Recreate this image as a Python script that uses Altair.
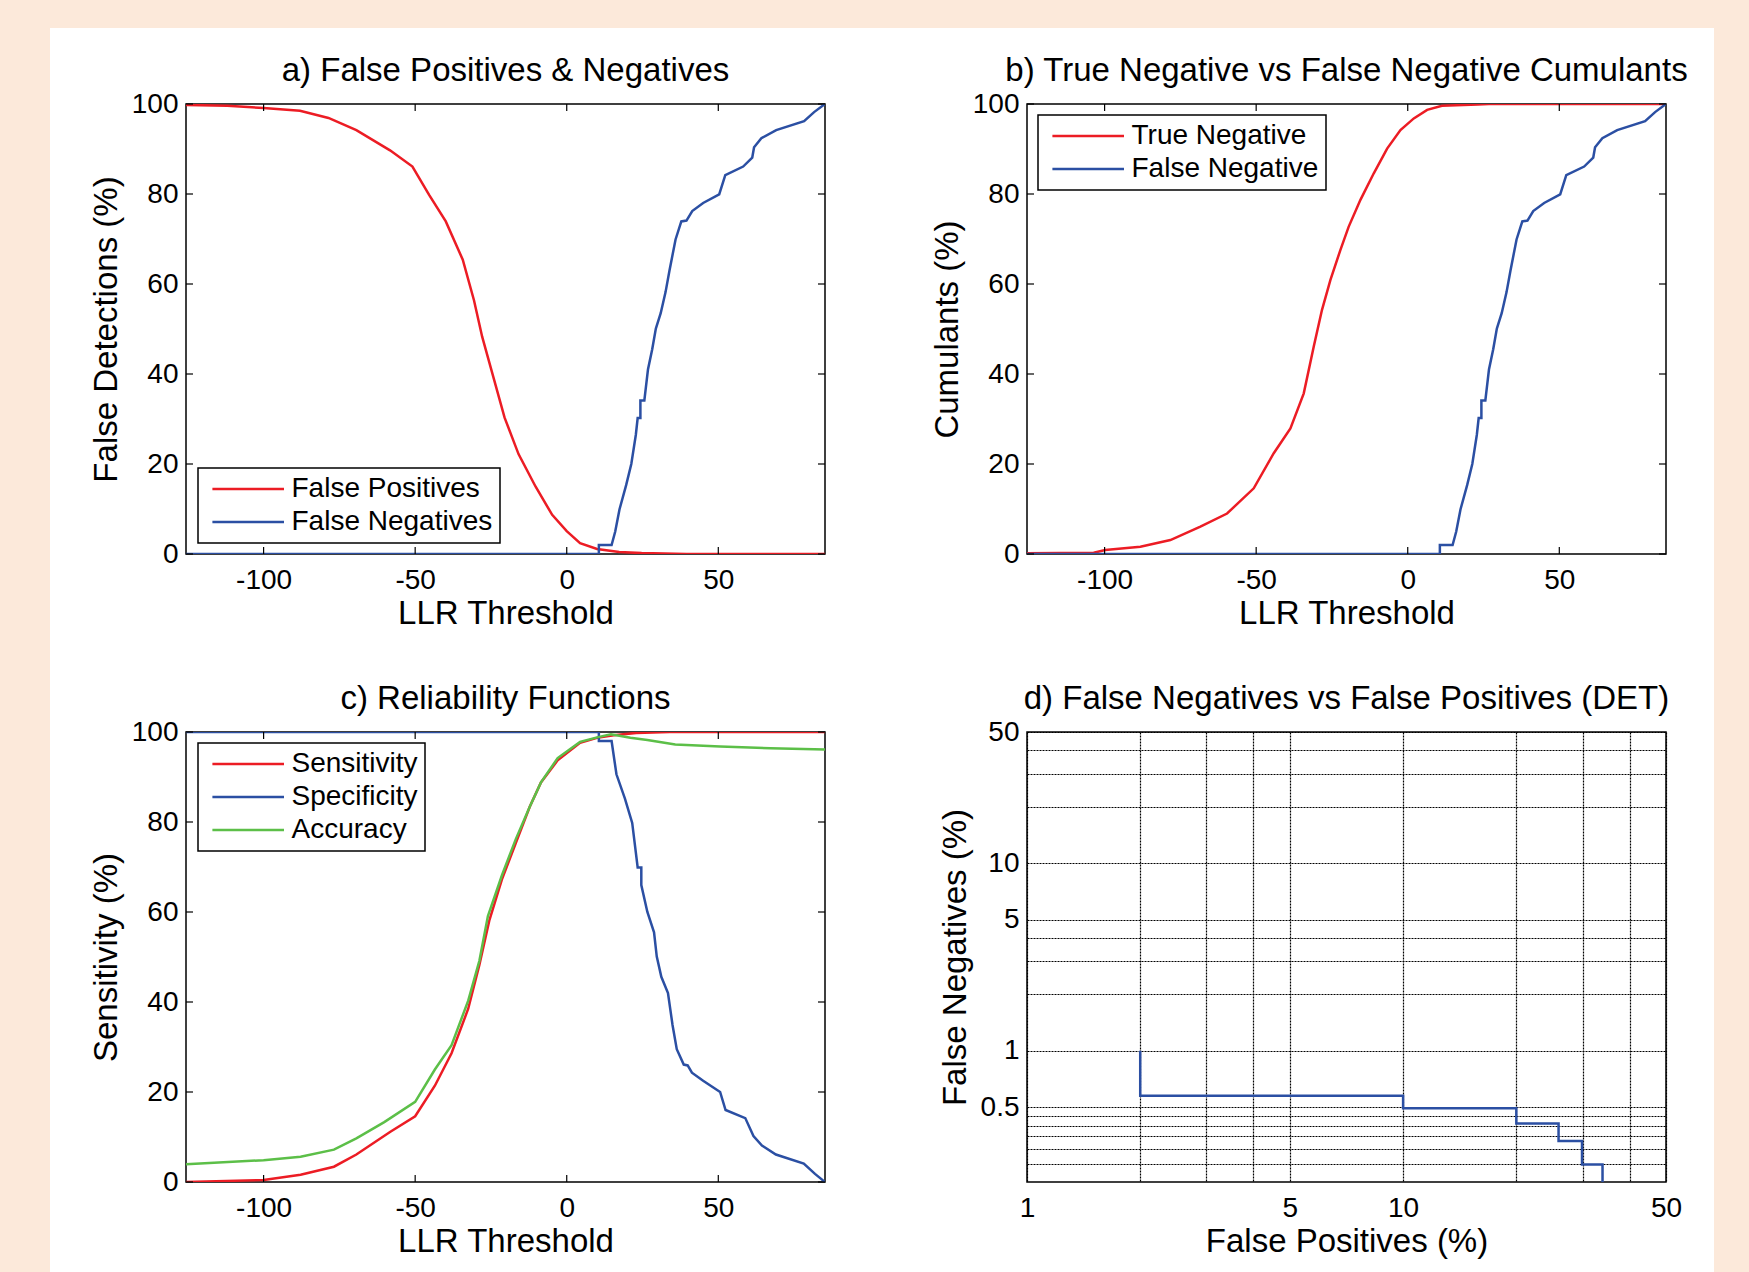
import altair as alt
import pandas as pd

# ---------------- data ----------------
# a) False Positives (red) vs LLR threshold
fp_x = [-125.6, -112, -100, -88, -78.6, -69.4, -58.3, -50.9, -45.4, -39.9, -34.3, -30.6,
        -27.9, -24.2, -20.5, -15.9, -10.3, -4.8, 0, 4.4, 10, 17.3, 24.7, 39.5, 85.2]
fp_y = [99.8, 99.6, 99.1, 98.5, 96.9, 94.2, 89.7, 86.1, 79.8, 73.9, 65.4, 56.4,
        48.3, 39.3, 30.3, 22.2, 15.0, 8.7, 5.1, 2.4, 1.1, 0.45, 0.2, 0, 0]

# a) / b) False Negatives (blue)
fn_x = [-125.6, 10.6, 10.6, 14.8, 16.0, 17.4, 19.6, 21.3, 22.8, 23.4, 24.3, 24.3, 25.6,
        26.8, 28.2, 29.4, 31.0, 32.6, 33.9, 35.9, 37.8, 39.5, 41.4, 45.0, 50.3, 52.3,
        58.2, 61.2, 61.8, 64.2, 69.1, 78.3, 81.6, 85.2]
fn_y = [0, 0, 2.0, 2.0, 5.0, 9.9, 15.3, 20.0, 26.5, 30.2, 30.2, 34.1, 34.1,
        41.0, 45.5, 50.1, 53.5, 58.2, 63.0, 69.9, 73.9, 74.1, 76.2, 78.0, 79.9, 84.2,
        86.1, 88.1, 90.4, 92.4, 94.2, 96.2, 98.2, 100]

# b) True Negative cumulant (red)
tn_x = [-125.6, -103.6, -99.8, -88.2, -78.3, -68.4, -59.6, -50.8, -44.2, -38.7, -34.3,
        -31.0, -28.3, -25.5, -22.2, -19.5, -15.6, -11.2, -6.8, -2.4, 2.0, 6.4, 11.3,
        23.1, 26.8, 85.2]
tn_y = [0.15, 0.3, 0.9, 1.6, 3.1, 6.1, 9.0, 14.6, 22.4, 27.9, 35.7,
        46.1, 54.2, 60.9, 67.6, 72.7, 78.7, 84.6, 90.1, 94.2, 96.8, 98.7, 99.6,
        99.9, 100, 100]

# c) Sensitivity (red)
sens_x = [-125.6, -100, -87.8, -76.8, -69.4, -58.3, -50, -43.5, -38.0, -32.5, -28.8,
          -25.5, -21.4, -16.8, -12.2, -8.5, -3.0, 4.4, 10, 15.5, 22.9, 34, 85.2]
sens_y = [0, 0.45, 1.6, 3.4, 6.1, 11.1, 14.6, 21.4, 28.6, 38.5, 48.3,
          58.2, 67.2, 75.3, 83.4, 88.8, 93.7, 97.6, 98.7, 99.3, 99.8, 100, 100]

# c) Specificity (blue)
spec_x = [-125.6, 10.6, 10.6, 14.8, 16.4, 19.2, 21.6, 23.4, 24.6, 24.6, 26.6, 28.8,
          29.7, 31.2, 33.4, 34.9, 36.3, 38.6, 39.9, 41.3, 45.0, 50.6, 52.4, 58.9,
          61.6, 64.4, 69.0, 78.2, 81.9, 85.2]
spec_y = [100, 100, 98.0, 98.0, 90.6, 85.2, 79.8, 69.9, 69.9, 66.0, 60.0, 55.5,
          50.1, 45.6, 42.0, 34.9, 29.5, 26.1, 25.9, 24.3, 22.5, 20.0, 16.0, 14.2,
          10.2, 8.1, 6.1, 4.1, 1.8, 0]

# c) Accuracy (green)
acc_x = [-125.6, -100, -87.8, -76.8, -69.4, -60.2, -50, -43.5, -38.0, -32.5, -28.8,
         -26.0, -21.4, -16.8, -12.2, -8.5, -3.0, 4.4, 10.0, 14.6, 21.0, 26.6, 35.8,
         50.6, 67.2, 85.2]
acc_y = [3.95, 4.85, 5.6, 7.2, 9.7, 13.3, 17.8, 25.0, 30.4, 40.3, 49.2,
         59.1, 68.1, 76.2, 83.4, 88.8, 94.2, 97.8, 98.8, 99.5, 98.7, 98.2, 97.2,
         96.8, 96.4, 96.1]

# d) DET curve (step corners)
det_x = [2, 2, 10, 10, 20, 20, 25.9, 25.9, 29.9, 29.9, 33.9, 33.9]
det_y = [1.0, 0.576, 0.576, 0.494, 0.494, 0.41, 0.41, 0.331, 0.331, 0.248, 0.248, 0.2]

panel_titles = ["a) False Positives & Negatives",
                "b) True Negative vs False Negative Cumulants",
                "c) Reliability Functions",
                "d) False Negatives vs False Positives (DET)"]
names_a = ["False Positives", "False Negatives"]
names_b = ["True Negative", "False Negative"]
names_c = ["Sensitivity", "Specificity", "Accuracy"]

llr_ticks = [-100, -50, 0, 50]
pct_ticks = [0, 20, 40, 60, 80, 100]
det_x_grid = [1, 2, 3, 4, 5, 10, 20, 30, 40, 50]
det_x_labels = [1, 5, 10, 50]
det_y_grid = [0.25, 0.3, 0.35, 0.4, 0.45, 0.5, 1, 2, 3, 4, 5, 10, 20, 30, 40, 50]
det_y_labels = [0.5, 1, 5, 10, 50]

# ---------------- styling ----------------
FONT = "Liberation Sans"
W, H = 639, 450
TL = 7
XDOM = [-125.6, 85.2]
YDOM = [0, 100]
RED, BLUE, GREEN = "#EC1C24", "#2B4FA3", "#5CBF48"
PEACH = "#FCE9DA"

one = pd.DataFrame({"k": [0]})


def series_df(parts):
    rows = []
    for name, xs, ys in parts:
        for i, (x, y) in enumerate(zip(xs, ys)):
            rows.append({"series": name, "x": x, "y": y, "i": i})
    return pd.DataFrame(rows)


def axis(title, orient, values, **extra):
    kw = dict(title=title, values=values, domain=False, ticks=False, grid=False,
              labelFont=FONT, labelFontSize=28, labelColor="black",
              labelFlush=False, labelOverlap=False,
              labelExpr="replace(datum.label, '\u2212', '-')",
              titleFont=FONT, titleFontWeight="normal", titleColor="black", zindex=1)
    if orient == "x":
        kw.update(labelPadding=12, titleFontSize=33, titlePadding=3)
    else:
        kw.update(labelPadding=8, titleFontSize=33, titlePadding=8)
    kw.update(extra)
    return alt.Axis(**kw)


def legend(lx, ly):
    return alt.Legend(title=None, orient="none", legendX=lx, legendY=ly, direction="vertical",
                      symbolType="M-0.66,0H6.5", symbolSize=400, symbolStrokeWidth=2.5,
                      labelFont=FONT, labelFontSize=28, labelColor="black", labelLimit=600,
                      labelOffset=58.5, padding=7, rowPadding=5,
                      strokeColor="black", fillColor="white")


def title_mark(text):
    return alt.Chart(one).mark_text(font=FONT, fontSize=33, color="black", align="center",
                                    baseline="alphabetic").encode(
        x=alt.value(W / 2), y=alt.value(-23), text=alt.value(text))


def frame():
    return alt.Chart(one).mark_rect(fillOpacity=0, stroke="black", strokeWidth=1.5).encode(
        x=alt.value(0), x2=alt.value(W), y=alt.value(0), y2=alt.value(H))


def inner_ticks(xscale, yscale, xa, ya):
    xdf = pd.DataFrame({"tv": llr_ticks})
    ydf = pd.DataFrame({"tv": pct_ticks})
    rs = dict(color="black", strokeWidth=1.2)
    xb = alt.Chart(xdf).mark_rule(**rs).encode(
        x=alt.X("tv:Q", scale=xscale, axis=xa), y=alt.value(H), y2=alt.value(H - TL))
    xt = alt.Chart(xdf).mark_rule(**rs).encode(
        x=alt.X("tv:Q", scale=xscale, axis=xa), y=alt.value(0), y2=alt.value(TL))
    yl = alt.Chart(ydf).mark_rule(**rs).encode(
        y=alt.Y("tv:Q", scale=yscale, axis=ya), x=alt.value(0), x2=alt.value(TL))
    yr = alt.Chart(ydf).mark_rule(**rs).encode(
        y=alt.Y("tv:Q", scale=yscale, axis=ya), x=alt.value(W - TL), x2=alt.value(W))
    return [xb, xt, yl, yr]


def llr_panel(ttl, parts, names, colors, ytitle, lx, ly, white=False):
    xscale = alt.Scale(domain=XDOM, nice=False, zero=False)
    yscale = alt.Scale(domain=YDOM, nice=False)
    xa = axis("LLR Threshold", "x", llr_ticks)
    ya = axis(ytitle, "y", pct_ticks)
    df = series_df(parts)
    lines = alt.Chart(df).mark_line(strokeWidth=2.5, clip=True).encode(
        x=alt.X("x:Q", scale=xscale, axis=xa),
        y=alt.Y("y:Q", scale=yscale, axis=ya),
        color=alt.Color("series:N", scale=alt.Scale(domain=names, range=colors),
                        legend=legend(lx, ly)),
        order=alt.Order("i:Q"),
    )
    layers = []
    if white:
        layers.append(alt.Chart(one).mark_rect(color="white").encode(
            x=alt.value(-136), x2=alt.value(1528), y=alt.value(-76), y2=alt.value(1168)))
    layers.append(frame())
    layers.append(lines)
    layers += inner_ticks(xscale, yscale, xa, ya)
    layers.append(title_mark(ttl))
    return alt.layer(*layers).properties(width=W, height=H)


pa = llr_panel(panel_titles[0],
               [(names_a[0], fp_x, fp_y), (names_a[1], fn_x, fn_y)],
               names_a, [RED, BLUE], "False Detections (%)", 12, 364, white=True)
pb = llr_panel(panel_titles[1],
               [(names_b[0], tn_x, tn_y), (names_b[1], fn_x, fn_y)],
               names_b, [RED, BLUE], "Cumulants (%)", 11, 11)
pc = llr_panel(panel_titles[2],
               [(names_c[0], sens_x, sens_y), (names_c[1], spec_x, spec_y),
                (names_c[2], acc_x, acc_y)],
               names_c, [RED, BLUE, GREEN], "Sensitivity (%)", 12, 11)

# d) DET panel on log axes
det_df = pd.DataFrame({"x": det_x, "y": det_y, "i": list(range(len(det_x)))})
grid_kw = dict(grid=True, gridColor="black", gridDash=[2, 1], gridWidth=1.2, gridOpacity=1,
               zindex=0)
det_line = alt.Chart(det_df).mark_line(strokeWidth=2.5, color=BLUE, clip=True).encode(
    x=alt.X("x:Q", scale=alt.Scale(type="log", domain=[1, 50], nice=False),
            axis=axis("False Positives (%)", "x", det_x_grid,
                      labelExpr="indexof(%s, datum.value) >= 0 ? format(datum.value, '~g') : ''"
                      % str(det_x_labels), **grid_kw)),
    y=alt.Y("y:Q", scale=alt.Scale(type="log", domain=[0.2, 50], nice=False),
            axis=axis("False Negatives (%)", "y", det_y_grid,
                      labelExpr="indexof(%s, datum.value) >= 0 ? format(datum.value, '~g') : ''"
                      % str(det_y_labels), **grid_kw)),
    order=alt.Order("i:Q"),
)
pd_ = alt.layer(frame(), det_line, title_mark(panel_titles[3])).properties(width=W, height=H)

chart = alt.concat(pa, pb, pc, pd_, columns=2, spacing={"row": 178, "column": 202},
                   bounds="flush").resolve_scale(
    color="independent", x="independent", y="independent"
).resolve_legend(color="independent").properties(
    background=PEACH,
    padding={"left": 50, "top": 28, "right": 35, "bottom": 0},
).configure_view(strokeWidth=0).configure_legend(strokeWidth=1.5)

chart.save("out.html", embed_options={"renderer": "svg", "actions": False})
